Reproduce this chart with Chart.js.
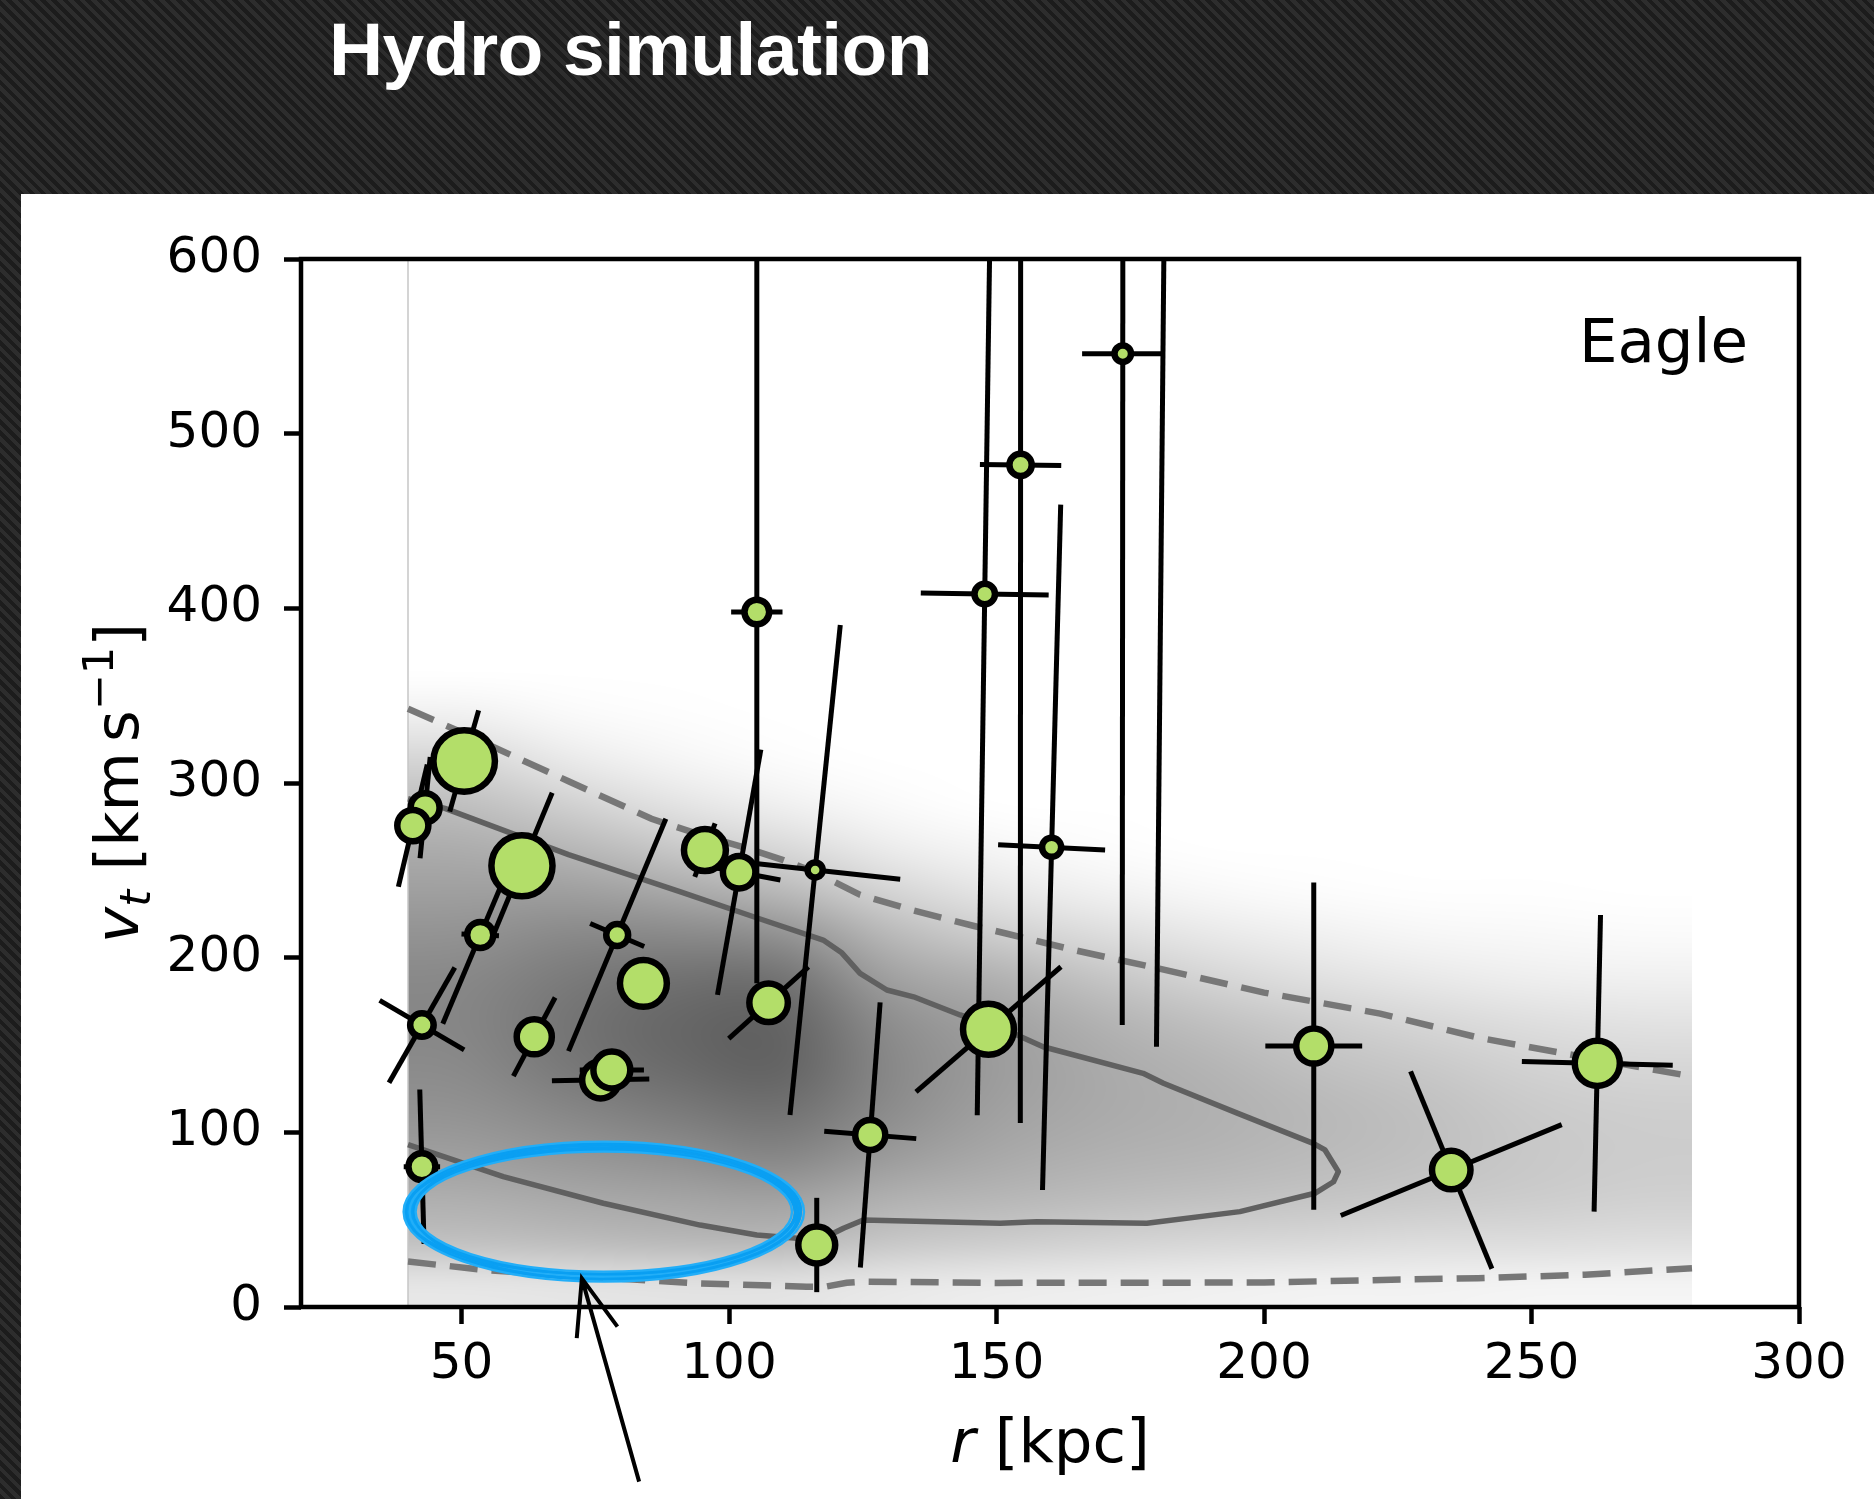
<!DOCTYPE html>
<html lang="en">
<head>
  <meta charset="UTF-8">
  <title>Hydro simulation - Eagle</title>
  <script src="https://cdn.jsdelivr.net/npm/chart.js"></script>
  <style>
    html, body { margin: 0; padding: 0; }
    body {
      width: 1874px;
      height: 1499px;
      overflow: hidden;
      position: relative;
      background-color: #232323;
      background-image: repeating-linear-gradient(45deg, #1c1c1c 0px, #1c1c1c 4px, #2d2d2d 4px, #2d2d2d 8px);
    }
    .slide-title {
      position: absolute;
      left: 329px;
      top: 12px;
      color: #fff;
      font: bold 75px/75px "Liberation Sans", Arial, sans-serif;
      letter-spacing: -0.6px;
      white-space: nowrap;
    }
    .panel {
      position: absolute;
      left: 21px;
      top: 194px;
      right: 0;
      bottom: 0;
      background: #fff;
    }
    .chart-wrap {
      position: absolute;
      left: 0;
      top: 0;
      width: 1874px;
      height: 1499px;
    }
  </style>
</head>
<body>
  <div class="slide-title">Hydro simulation</div>
  <div class="panel"></div>
  <div class="chart-wrap"><canvas id="vtChart"></canvas></div>

  <script>
    // tick labels
    const xTicks = [50, 100, 150, 200, 250, 300];
    const yTicks = [0, 100, 200, 300, 400, 500, 600];

    // satellites: r [kpc], v_t [km/s], marker size
    const satR  = [43.2, 40.9, 50.5, 53.5, 61.3, 42.6, 42.6, 63.6, 76.0, 78.1, 79.1, 84.0, 95.5, 101.9,
                   105.2, 116.1, 107.4, 126.4, 116.4, 147.8, 148.5, 154.5, 160.3, 173.6, 181.4, 209.3, 235.0, 262.3];
    const satVt = [285.9, 275.6, 312.6, 213.0, 252.6, 161.4, 80.3, 154.7, 130.0, 135.7, 213.0, 185.3, 261.6, 248.9,
                   397.9, 250.2, 174.2, 98.5, 35.5, 408.2, 159.0, 482.1, 263.2, 545.8, 640, 149.4, 78.4, 139.5];
    const satSize = [17.7, 18.8, 34, 16.3, 33.8, 15, 16.7, 20.8, 21.7, 21.7, 14.2, 26.7, 24.2, 19.5,
                     15.6, 10.8, 22.5, 18.3, 21.7, 13.5, 28.7, 14.4, 12.8, 11.5, 12, 20.8, 22.5, 25.8];

    // error crosses: half axes of the error ellipse, in data units
    const majDr = [0.95, 2.7, 2.7, 7.0, 5.65, 6.15, -0.4, 3.9, 0, 0, 9.1, 0, 1.9, 4.05,
                   0, 4.7, 7.45, 1.85, 0, 1.4, 13.55, 0.05, 1.7, 0.1, 1.5, 0, -7.6, 0.6];
    const majDv = [29, 35, 29, 50.8, 41.8, 33, 44.2, 22.5, 0, 0, 66.5, 0, 15.3, 70.2,
                   212.6, 140.3, 20.5, 75.9, 27, 298.4, 35.8, 376.7, 196.2, 384.4, 491, 93.7, 56.5, 84.9];
    const minDr = [0, 0, 0, 3.5, 0, 7.9, 3.4, 0, 9.1, 6.0, 5.05, 0, 0, 7.7,
                   4.8, 15.9, 0, 8.6, 0, 11.95, 0, 7.6, 10, 7.6, 0, 9.05, 20.65, 14.1];
    const minDv = [0, 0, 0, -0.5, 0, -14.2, 0, 0, 0.5, 0, -6.6, 0, 0, -4.4,
                   0, -5.3, 0, -2.1, 0, -0.55, 0, -0.3, -1.5, 0, 0, 0, 26, -1.1];

    // simulation contours
    const innerR = [40, 46.9, 70, 90.8, 105, 117.6, 121, 124.5, 129.5, 134.5, 143.2, 153.1, 158.7, 177.4, 181.2, 195,
                    209.2, 211.4, 213.9, 213, 209.5, 195.5, 178.1, 157.5, 150.7, 125.1, 121.4, 119.5, 112.7, 105.2, 94.6, 76.5, 57.8, 40];
    const innerV = [291, 285.5, 259, 237.8, 223, 210.1, 203, 191, 181.5, 177.6, 167.2, 156.7, 149, 133.8, 128.1, 111,
                    93.7, 89.9, 77.5, 71.7, 65.1, 54.6, 47.9, 48.8, 47.9, 49.8, 45.1, 42.2, 39.3, 41.2, 46.9, 59.4, 74.6, 93];
    const upperR = [40, 50, 60, 70, 85.5, 95, 103, 110, 116, 124.5, 134.5, 146, 151.6, 165, 180, 200, 221.7, 240.4, 260, 280];
    const upperV = [342.5, 329, 315, 301, 279.5, 270, 263, 256, 249, 236, 227, 218, 214, 204, 194, 180, 168, 154, 143, 132];
    const lowerR = [40, 55, 70, 94, 114.5, 118, 122, 125, 150, 200, 222, 240, 260, 280];
    const lowerV = [26, 21, 18, 13.6, 11.6, 11.6, 13.9, 14.5, 13.8, 14, 15.5, 16.5, 18.5, 22.2];
    const edgeR = [40, 40];
    const edgeV = [0, 600];

    // density map of simulated satellites (darkness 0-255), one list per r column
    const heatR = [50, 70, 90, 110, 130, 150, 170, 190, 210, 230, 250, 270];
    const heatV = [12.5, 37.5, 62.5, 87.5, 112.5, 137.5, 162.5, 187.5, 212.5, 237.5, 262.5, 287.5, 312.5, 337.5, 362.5];
    const heatDark = [
      [25, 63, 81, 97, 109, 117, 121, 119, 109, 96, 83, 65, 42, 16, 0],
      [27, 67, 87, 105, 121, 135, 139, 133, 119, 97, 73, 47, 22, 6, 0],
      [29, 71, 91, 113, 133, 149, 153, 143, 119, 87, 55, 28, 10, 2, 0],
      [29, 71, 95, 123, 143, 157, 157, 143, 111, 71, 39, 15, 3, 0, 0],
      [23, 57, 79, 101, 115, 119, 113, 95, 71, 43, 19, 5, 0, 0, 0],
      [19, 51, 73, 87, 95, 99, 95, 79, 50, 25, 9, 0, 0, 0, 0],
      [17, 45, 67, 79, 85, 85, 77, 59, 35, 14, 3, 0, 0, 0, 0],
      [15, 41, 63, 75, 79, 75, 63, 43, 23, 7, 0, 0, 0, 0, 0],
      [13, 39, 59, 69, 71, 63, 51, 31, 15, 3, 0, 0, 0, 0, 0],
      [13, 35, 55, 63, 63, 55, 41, 23, 9, 1, 0, 0, 0, 0, 0],
      [11, 35, 51, 55, 53, 45, 33, 17, 7, 1, 0, 0, 0, 0, 0],
      [11, 33, 47, 51, 49, 41, 29, 15, 5, 0, 0, 0, 0, 0, 0]
    ];

    // hand-drawn highlight and arrow (data units)
    const noteRing = { r: 76.6, v: 54.6, dr: 36.3, dv: 37.2 };
    const noteArrow = { tipR: 72.5, tipV: 16.4, tailR: 83.2, tailV: -100 };

    const toPoints = (xs, ys) => xs.map((x, i) => ({ x: x, y: ys[i] }));

    Chart.defaults.font.family = '"DejaVu Sans", sans-serif';
    Chart.defaults.color = '#000';

    const MARKER_EDGE = 6.5;

    // grey density background
    const heatPlugin = {
      id: 'heat',
      beforeDatasetsDraw(chart) {
        const { ctx, chartArea, scales: { x, y } } = chart;
        const nx = heatR.length, ny = heatV.length;
        const off = document.createElement('canvas');
        off.width = nx;
        off.height = ny;
        const octx = off.getContext('2d');
        const img = octx.createImageData(nx, ny);
        for (let i = 0; i < nx; i++) {
          for (let j = 0; j < ny; j++) {
            const g = 255 - heatDark[i][j];
            const k = ((ny - 1 - j) * nx + i) * 4;
            img.data[k] = g; img.data[k + 1] = g; img.data[k + 2] = g; img.data[k + 3] = 255;
          }
        }
        octx.putImageData(img, 0, 0);
        const hx = (heatR[1] - heatR[0]) / 2, hy = (heatV[1] - heatV[0]) / 2;
        const left = x.getPixelForValue(heatR[0] - hx);
        const right = x.getPixelForValue(heatR[nx - 1] + hx);
        const top = y.getPixelForValue(heatV[ny - 1] + hy);
        const bottom = y.getPixelForValue(heatV[0] - hy);
        ctx.save();
        ctx.beginPath();
        ctx.rect(chartArea.left, chartArea.top, chartArea.width, chartArea.height);
        ctx.clip();
        ctx.imageSmoothingEnabled = true;
        ctx.imageSmoothingQuality = 'high';
        ctx.drawImage(off, left, top, right - left, bottom - top);
        ctx.restore();
      }
    };

    // tilted error bars, drawn just under the markers
    const errorPlugin = {
      id: 'errorCross',
      beforeDatasetDraw(chart, args) {
        if (chart.data.datasets[args.index].label !== 'satellites') return;
        const { ctx, chartArea, scales: { x, y } } = chart;
        ctx.save();
        ctx.beginPath();
        ctx.rect(chartArea.left, chartArea.top, chartArea.width, chartArea.height);
        ctx.clip();
        ctx.strokeStyle = '#000';
        ctx.lineWidth = 5;
        ctx.lineCap = 'butt';
        const seg = (r, v, dr, dv) => {
          if (dr === 0 && dv === 0) return;
          ctx.beginPath();
          ctx.moveTo(x.getPixelForValue(r - dr), y.getPixelForValue(v - dv));
          ctx.lineTo(x.getPixelForValue(r + dr), y.getPixelForValue(v + dv));
          ctx.stroke();
        };
        satR.forEach((r, i) => {
          seg(r, satVt[i], majDr[i], majDv[i]);
          seg(r, satVt[i], minDr[i], minDv[i]);
        });
        ctx.restore();
      }
    };

    // labels, frame and the annotation
    const decorPlugin = {
      id: 'decor',
      afterDatasetsDraw(chart) {
        const { ctx, chartArea: a, scales: { x, y } } = chart;
        // blue hand-drawn ring: a few thin passes make the rough band
        const cx = x.getPixelForValue(noteRing.r), cy = y.getPixelForValue(noteRing.v);
        const rx = x.getPixelForValue(noteRing.r + noteRing.dr) - cx;
        const ry = cy - y.getPixelForValue(noteRing.v + noteRing.dv);
        const passes = [[0, 0, 0], [-4, -3, 1], [4, 3, -1], [-2, 2, 2], [2, -2, -2], [6, 5, 0], [-6, -5, 0]];
        ctx.save();
        ctx.strokeStyle = '#0aa3f6';
        ctx.lineWidth = 8;
        ctx.beginPath();
        ctx.ellipse(cx, cy, rx, ry, 0, 0, Math.PI * 2);
        ctx.stroke();
        ctx.lineWidth = 2.4;
        passes.forEach(p => {
          ctx.strokeStyle = p[2] === 0 ? '#22aef8' : '#0a9ff2';
          ctx.beginPath();
          ctx.ellipse(cx + p[2], cy + p[2] * 0.5, rx + p[0], ry + p[1], 0.004 * p[2], 0, Math.PI * 2);
          ctx.stroke();
        });
        ctx.restore();

        // panel label
        ctx.save();
        ctx.fillStyle = '#000';
        ctx.font = '61px "DejaVu Sans"';
        ctx.textAlign = 'right';
        ctx.textBaseline = 'alphabetic';
        ctx.fillText('Eagle', a.right - 51, a.top + 103);
        ctx.restore();
      },
      afterDraw(chart) {
        const { ctx, chartArea: a, scales: { x, y } } = chart;
        ctx.save();
        ctx.strokeStyle = '#000';
        ctx.lineWidth = 4.5;
        ctx.strokeRect(a.left, a.top, a.width, a.height);

        // arrow pointing at the ring
        const tx = x.getPixelForValue(noteArrow.tipR), ty = y.getPixelForValue(noteArrow.tipV);
        const bx = x.getPixelForValue(noteArrow.tailR), by = y.getPixelForValue(noteArrow.tailV);
        const ang = Math.atan2(by - ty, bx - tx);
        ctx.lineWidth = 4;
        ctx.beginPath();
        ctx.moveTo(bx, by);
        ctx.lineTo(tx, ty);
        ctx.moveTo(tx + 60 * Math.cos(ang - 0.36), ty + 60 * Math.sin(ang - 0.36));
        ctx.lineTo(tx, ty);
        ctx.lineTo(tx + 60 * Math.cos(ang + 0.36), ty + 60 * Math.sin(ang + 0.36));
        ctx.stroke();

        // axis titles with italic / sub / superscript runs
        const runs = (parts) => {
          let w = 0;
          parts.forEach(p => {
            if (p.gap) { w += p.gap; return; }
            ctx.font = (p.it ? 'italic ' : '') + p.size + 'px "DejaVu Sans"';
            p.w = ctx.measureText(p.t).width;
            w += p.w;
          });
          let px = -w / 2;
          parts.forEach(p => {
            if (p.gap) { px += p.gap; return; }
            ctx.font = (p.it ? 'italic ' : '') + p.size + 'px "DejaVu Sans"';
            ctx.fillText(p.t, px, p.dy || 0);
            px += p.w;
          });
        };
        ctx.fillStyle = '#000';
        ctx.textAlign = 'left';
        ctx.textBaseline = 'alphabetic';

        ctx.save();
        ctx.translate((a.left + a.right) / 2, a.bottom + 155);
        runs([{ t: 'r', it: true, size: 61 }, { t: ' [kpc]', size: 61 }]);
        ctx.restore();

        ctx.save();
        ctx.translate(138, (a.top + a.bottom) / 2);
        ctx.rotate(-Math.PI / 2);
        runs([
          { t: 'v', it: true, size: 61 },
          { t: 't', it: true, size: 43, dy: 12 },
          { t: ' [km', size: 61 },
          { gap: 10 },
          { t: 's', size: 61 },
          { t: '\u22121', size: 43, dy: -25 },
          { t: ']', size: 61 }
        ]);
        ctx.restore();
        ctx.restore();
      }
    };

    const lineStyle = { showLine: true, fill: false, tension: 0, pointRadius: 0, pointHoverRadius: 0, borderCapStyle: 'butt' };

    const chart = new Chart(document.getElementById('vtChart'), {
      type: 'scatter',
      data: {
        datasets: [
          Object.assign({ label: 'inner edge', data: toPoints(edgeR, edgeV), borderColor: '#c6c6c6', borderWidth: 1.5, order: 5 }, lineStyle),
          Object.assign({ label: 'outer contour high', data: toPoints(upperR, upperV), borderColor: '#777777', borderWidth: 6.5, borderDash: [28, 14], order: 4 }, lineStyle),
          Object.assign({ label: 'outer contour low', data: toPoints(lowerR, lowerV), borderColor: '#777777', borderWidth: 6.5, borderDash: [28, 14], order: 4 }, lineStyle),
          Object.assign({ label: 'inner contour', data: toPoints(innerR, innerV), borderColor: '#606060', borderWidth: 5.5, borderJoinStyle: 'round', order: 3 }, lineStyle),
          {
            label: 'satellites',
            data: toPoints(satR, satVt),
            pointRadius: satSize.map(s => s - MARKER_EDGE / 2),
            pointBackgroundColor: '#b3de69',
            pointBorderColor: '#000',
            pointBorderWidth: MARKER_EDGE,
            pointHoverRadius: satSize.map(s => s - MARKER_EDGE / 2),
            showLine: false,
            clip: 0,
            order: 1
          }
        ]
      },
      options: {
        responsive: true,
        maintainAspectRatio: false,
        animation: false,
        events: [],
        layout: { padding: { left: 101, right: 75, top: 259, bottom: 72 } },
        plugins: {
          legend: { display: false },
          tooltip: { enabled: false }
        },
        scales: {
          x: {
            type: 'linear',
            min: 20,
            max: 300,
            afterBuildTicks: s => { s.ticks = xTicks.map(v => ({ value: v })); },
            afterFit: s => { s.height = 120; },
            ticks: { font: { size: 50 }, color: '#000', padding: 11, maxRotation: 0, autoSkip: false },
            grid: { display: true, drawOnChartArea: false, drawTicks: true, tickLength: 17, tickWidth: 4.5, tickColor: '#000' },
            border: { display: false }
          },
          y: {
            type: 'linear',
            min: 0,
            max: 600,
            afterBuildTicks: s => { s.ticks = yTicks.map(v => ({ value: v })); },
            afterFit: s => { s.width = 200; },
            ticks: { font: { size: 50 }, color: '#000', padding: 22, autoSkip: false },
            grid: { display: true, drawOnChartArea: false, drawTicks: true, tickLength: 17, tickWidth: 4.5, tickColor: '#000' },
            border: { display: false }
          }
        }
      },
      plugins: [heatPlugin, errorPlugin, decorPlugin]
    });
  </script>
</body>
</html>
